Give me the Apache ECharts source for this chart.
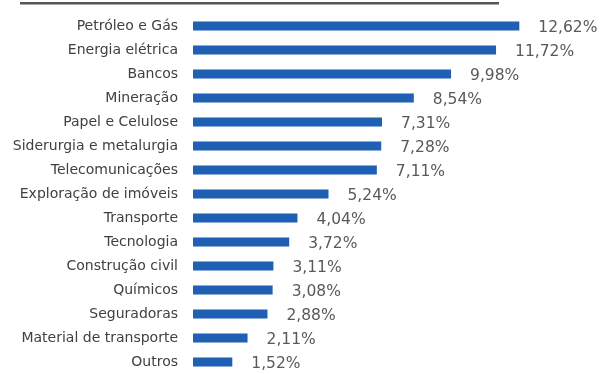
<!DOCTYPE html>
<html>
<head>
<meta charset="utf-8">
<script src="https://cdn.jsdelivr.net/npm/echarts@6/dist/echarts.min.js"></script>
<style>
  html, body { margin: 0; padding: 0; background: #ffffff; }
  #chart { width: 616px; height: 374px; }
</style>
</head>
<body>
<div id="chart"></div>
<script>
// Sector weights (%), listed top to bottom
const sectors = [
  'Petróleo e Gás',
  'Energia elétrica',
  'Bancos',
  'Mineração',
  'Papel e Celulose',
  'Siderurgia e metalurgia',
  'Telecomunicações',
  'Exploração de imóveis',
  'Transporte',
  'Tecnologia',
  'Construção civil',
  'Químicos',
  'Seguradoras',
  'Material de transporte',
  'Outros'
];
const weights = [12.62, 11.72, 9.98, 8.54, 7.31, 7.28, 7.11, 5.24, 4.04, 3.72, 3.11, 3.08, 2.88, 2.11, 1.52];

const chart = echarts.init(document.getElementById('chart'), null, { renderer: 'canvas' });

const fmt = v => v.toFixed(2).replace('.', ',') + '%';

chart.setOption({
  animation: false,
  backgroundColor: '#ffffff',
  graphic: [
    {
      type: 'rect',
      shape: { x: 20, y: 2, width: 479, height: 2.5 },
      style: { fill: '#555555' },
      silent: true
    }
  ],
  grid: { left: 193, top: 14, width: 362, height: 361, containLabel: false },
  xAxis: {
    type: 'value',
    min: 0,
    max: 14,
    show: false
  },
  yAxis: {
    type: 'category',
    data: sectors,
    inverse: true,
    axisLine: { show: false },
    axisTick: { show: false },
    splitLine: { show: false },
    axisLabel: {
      margin: 15,
      color: '#404040',
      fontFamily: 'DejaVu Sans',
      fontSize: 14,
      verticalAlign: 'middle'
    }
  },
  series: [{
    type: 'bar',
    data: weights,
    barWidth: 9,
    itemStyle: { color: '#1F5FB4' },
    label: {
      show: true,
      position: 'right',
      distance: 19,
      offset: [0, 2],
      color: '#595959',
      fontFamily: 'DejaVu Sans',
      fontSize: 15.5,
      formatter: p => fmt(p.value)
    }
  }]
});
</script>
</body>
</html>
